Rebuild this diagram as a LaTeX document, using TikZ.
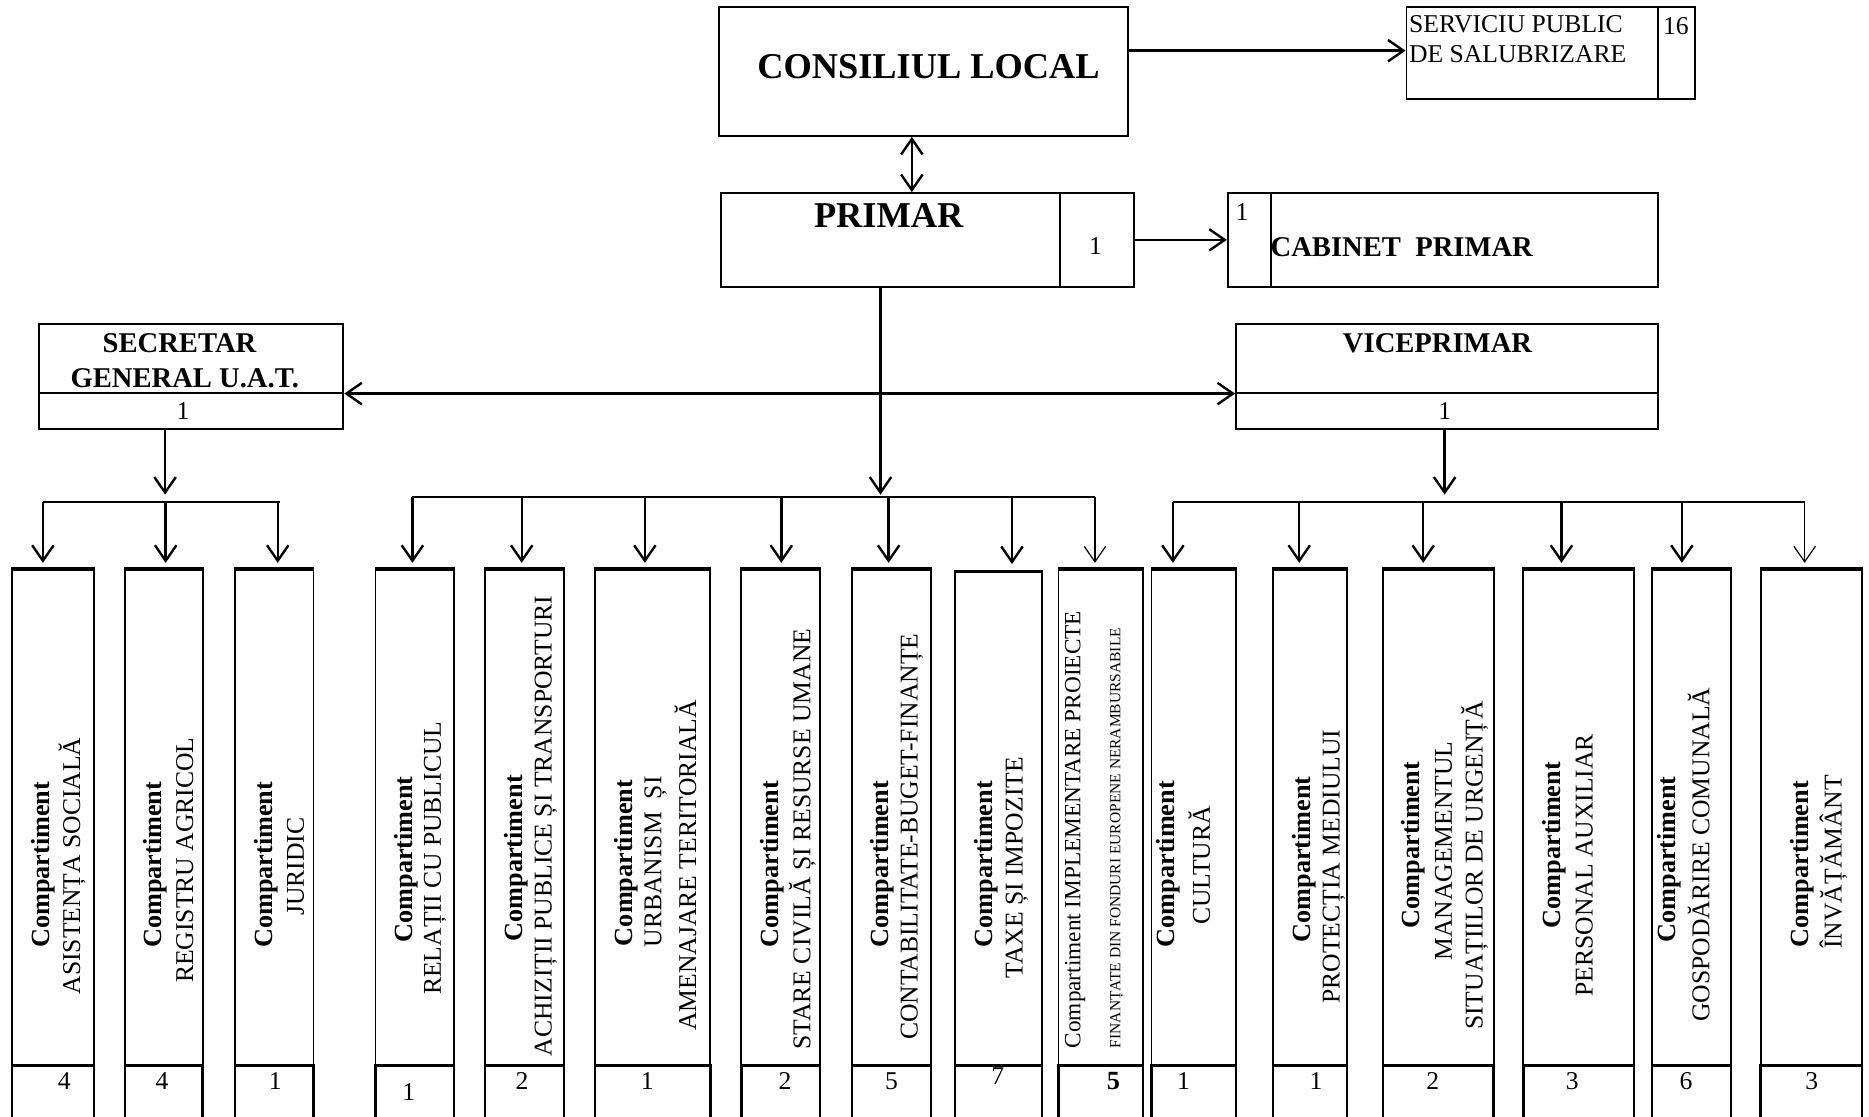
\documentclass[tikz,border=0pt]{standalone}
\usepackage{fontspec}
\setmainfont{Liberation Serif}
\usetikzlibrary{arrows.meta,fit}
\newcommand{\myBig}{\fontsize{30.5}{34}\selectfont\bfseries}
\newcommand{\myMid}{\fontsize{24}{28}\selectfont\bfseries}
\newcommand{\myReg}{\fontsize{21.5}{25}\selectfont}
\newcommand{\myBold}{\fontsize{22}{25}\selectfont\bfseries}
\newcommand{\myImp}{\fontsize{19.5}{22}\selectfont}
\newcommand{\mySmall}{\fontsize{13}{15}\selectfont}
\begin{document}
\begin{tikzpicture}[x=1pt,y=-1pt,
  frame/.style={draw, line width=1.6pt, inner sep=0pt},
  cell/.style={draw, line width=2pt, inner sep=0pt},
  lbl/.style={inner sep=0pt},
  rot/.style={inner sep=0pt, rotate=90},
  arr/.style={line width=2pt, -{Straight Barb[length=13pt,width=18pt]}},
  thinarr/.style={line width=1pt, -{Straight Barb[length=13pt,width=18pt]}},
  darr/.style={line width=2pt, {Straight Barb[length=13pt,width=18pt]}-{Straight Barb[length=13pt,width=18pt]}},
  bus/.style={line width=2pt},
  topedge/.style={line width=2.8pt}]
\useasboundingbox (0,0) rectangle (1568,937);
\clip (0,0) rectangle (1568,937);

% ---------- upper boxes ----------
\node[frame, fit={(603,6) (946,114)}] (cl) {};
\node[frame, fit={(1180,6) (1391,83)}] (sv) {};
\node[frame, fit={(1391,6) (1422,83)}] (sv16) {};
\node[frame, fit={(605,162) (889,240.5)}] (pr) {};
\node[frame, fit={(889,162) (951,240.5)}] (pr1) {};
\node[frame, fit={(1030,162) (1066,240.5)}] (cab1) {};
\node[frame, fit={(1066,162) (1391,240.5)}] (cab) {};
\node[frame, fit={(33,272) (288,329.4)}] (sec) {};
\node[frame, fit={(33,329.4) (288,360)}] (sec1) {};
\node[frame, fit={(1037,272) (1391,329.4)}] (vp) {};
\node[frame, fit={(1037,329.4) (1391,360)}] (vp1) {};

% ---------- upper texts ----------
\node[lbl, font=\myBig] (cltxt) at (779,55.5) {CONSILIUL LOCAL};
\node[lbl, font=\myReg, anchor=west] (svtxta) at (1182,20.7) {SERVICIU PUBLIC};
\node[lbl, font=\myReg, anchor=west] (svtxtb) at (1182,45.8) {DE SALUBRIZARE};
\node[lbl, font=\myReg] (svnum) at (1406,22) {16};
\node[lbl, font=\myBig] (prtxt) at (745.6,181) {PRIMAR};
\node[lbl, font=\myReg] (prnum) at (919,206) {1};
\node[lbl, font=\myReg] (cabnum) at (1042,177.6) {1};
\node[lbl, font=\myMid] (cabtxt) at (1176,207.7) {CABINET\ \ PRIMAR};
\node[lbl, font=\myMid] (sectxta) at (150.6,288) {SECRETAR};
\node[lbl, font=\myMid] (sectxtb) at (155,317) {GENERAL U.A.T.};
\node[lbl, font=\myReg] (secnum) at (153.5,345) {1};
\node[lbl, font=\myMid] (vptxt) at (1206,288) {VICEPRIMAR};
\node[lbl, font=\myReg] (vpnum) at (1212,345) {1};

% ---------- upper connectors ----------
\draw[arr] ([yshift=2pt]sv.west -| cl.east) -- ([yshift=2pt]sv.west);
\draw[darr] ([xshift=-9.5pt]cl.south) -- ([xshift=-9.5pt]cl.south |- pr.north);
\draw[arr] (pr1.east) -- (pr1.east -| cab1.west);
\draw[darr] (sec.south east) -- (vp.south west);

% ---------- buses ----------
\coordinate (lbL) at (36,421);
\coordinate (lbR) at (235,421);
\coordinate (mbL) at (346,417);
\coordinate (mbR) at (918.6,417);
\coordinate (rbL) at (984,421);
\coordinate (rbR) at (1514,421);
\draw[bus] (lbL) -- (lbR);
\draw[bus] (mbL) -- (mbR);
\draw[bus] (rbL) -- (rbR);
\draw[arr, shorten >=2pt] ([xshift=-8.3pt]pr.south) -- ([xshift=-8.3pt]pr.south |- mbL);
\draw[arr, shorten >=6pt] ([xshift=-22pt]sec1.south) -- ([xshift=-22pt]sec1.south |- lbL);
\draw[arr, shorten >=6pt] ([xshift=-2pt]vp1.south) -- ([xshift=-2pt]vp1.south |- rbL);

% ---------- bottom boxes ----------
\foreach \i/\L/\R/\T in {1/10/79/478, 2/105/170/478, 3/197/263/478, 4/315/381/478,
  5/407/473/478, 6/499/596/478, 7/622/688/478, 8/715/781/478, 9/801/874/480,
  10/888/959/478, 11/966/1037/478, 12/1068/1130/478, 13/1160/1253/478,
  14/1278/1371/478, 15/1386/1452/478, 16/1477/1562/478} {
  \node[frame, fit={(\L,\T) (\R,894)}] (b\i) {};
  \node[cell, fit={(\L,894) (\R,950)}] (c\i) {};
  \draw[topedge] (b\i.north west) -- (b\i.north east);
}

% ---------- drops ----------
\foreach \i/\dx/\bb in {1/-8.5/lbL, 2/1.5/lbL, 3/3/lbL} {
  \draw[arr] ([xshift=\dx pt]b\i.north |- \bb) -- ([xshift=\dx pt, yshift=5pt]b\i.north);
}
\foreach \i/\dx/\bb in {4/-2/mbL, 5/-2.3/mbL, 6/-6.5/mbL, 7/0.5/mbL, 8/-2.5/mbL} {
  \draw[arr] ([xshift=\dx pt]b\i.north |- \bb) -- ([xshift=\dx pt, yshift=5pt]b\i.north);
}
\draw[arr] ([xshift=11.5pt]b9.north |- mbL) -- ([xshift=11.5pt, yshift=6pt]b9.north);
\draw[thinarr] ([xshift=-4.9pt]b10.north |- mbL) -- ([xshift=-4.9pt, yshift=5pt]b10.north);
\foreach \i/\dx/\bb in {11/-17.5/rbL, 12/-9/rbL, 13/-12.5/rbL, 14/-14.5/rbL, 15/-8/rbL} {
  \draw[arr] ([xshift=\dx pt]b\i.north |- \bb) -- ([xshift=\dx pt, yshift=5pt]b\i.north);
}
\draw[thinarr] ([xshift=-5.5pt]b16.north |- rbL) -- ([xshift=-5.5pt, yshift=5pt]b16.north);

% ---------- counts ----------
\foreach \i/\x/\y/\n in {1/54/907/4, 2/136/907/4, 3/231/907/1, 4/343/916/1,
  5/438/907/2, 6/543/907/1, 7/658.5/907/2, 8/748/907/5, 9/837/903/7,
  11/993/907/1, 12/1104/907/1, 13/1202/907/2, 14/1319/907/3, 15/1414.5/907/6,
  16/1520/907/3} {
  \node[lbl, font=\myReg] (n\i) at (\x,\y) {\n};
}
\node[lbl, font=\myBold] (n10) at (934,907) {5};

% ---------- vertical texts ----------
\node[rot, font=\myBold] (t1a) at (36,725.5) {Compartiment};
\node[rot, font=\myReg] (t1b) at (60.5,726.5) {ASISTENȚA SOCIALĂ};
\node[rot, font=\myBold] (t2a) at (130,725.5) {Compartiment};
\node[rot, font=\myReg] (t2b) at (155,721.6) {REGISTRU AGRICOL};
\node[rot, font=\myBold] (t3a) at (223,725.5) {Compartiment};
\node[rot, font=\myReg] (t3b) at (248,727) {JURIDIC};
\node[rot, font=\myBold] (t4a) at (340.5,721) {Compartiment};
\node[rot, font=\myReg] (t4b) at (365,720) {RELAȚII CU PUBLICUL};
\node[rot, font=\myBold] (t5a) at (433,720) {Compartiment};
\node[rot, font=\myReg] (t5b) at (458,693) {ACHIZIȚII PUBLICE ȘI TRANSPORTURI};
\node[rot, font=\myBold] (t6a) at (525,724) {Compartiment};
\node[rot, font=\myReg] (t6b) at (550,723) {URBANISM\ \ ȘI};
\node[rot, font=\myReg] (t6c) at (575,726) {AMENAJARE TERITORIALĂ};
\node[rot, font=\myBold] (t7a) at (648,725) {Compartiment};
\node[rot, font=\myReg] (t7b) at (673,704) {STARE CIVILĂ ȘI RESURSE UMANE};
\node[rot, font=\myBold] (t8a) at (740,725) {Compartiment};
\node[rot, font=\myReg] (t8b) at (765,702) {CONTABILITATE-BUGET-FINANȚE};
\node[rot, font=\myBold] (t9a) at (827,725) {Compartiment};
\node[rot, font=\myReg] (t9b) at (853,728) {TAXE ȘI IMPOZITE};
\node[rot, font=\myImp] (t10a) at (902,696) {Compartiment IMPLEMENTARE PROIECTE};
\node[rot, font=\mySmall] (t10b) at (937,703) {FINANȚATE DIN FONDURI EUROPENE NERAMBURSABILE};
\node[rot, font=\myBold] (t11a) at (980,725) {Compartiment};
\node[rot, font=\myReg] (t11b) at (1006,726) {CULTURĂ};
\node[rot, font=\myBold] (t12a) at (1094,721) {Compartiment};
\node[rot, font=\myReg] (t12b) at (1119,727) {PROTECȚIA MEDIULUI};
\node[rot, font=\myBold] (t13a) at (1186,709) {Compartiment};
\node[rot, font=\myReg] (t13b) at (1211,714) {MANAGEMENTUL};
\node[rot, font=\myReg] (t13c) at (1237,726) {SITUAȚIILOR DE URGENȚĂ};
\node[rot, font=\myBold] (t14a) at (1304,709) {Compartiment};
\node[rot, font=\myReg] (t14b) at (1329,726) {PERSONAL AUXILIAR};
\node[rot, font=\myBold] (t15a) at (1400,721) {Compartiment};
\node[rot, font=\myReg] (t15b) at (1425,717) {GOSPODĂRIRE COMUNALĂ};
\node[rot, font=\myBold] (t16a) at (1512,725) {Compartiment};
\node[rot, font=\myReg] (t16b) at (1538,723) {ÎNVĂȚĂMÂNT};
\end{tikzpicture}
\end{document}
